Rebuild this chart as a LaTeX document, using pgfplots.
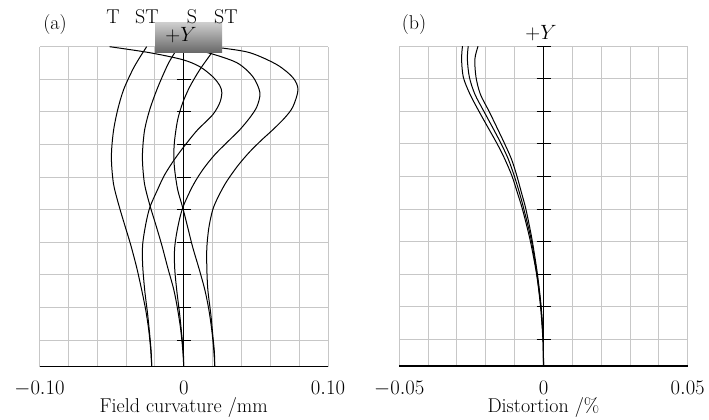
\documentclass[border=0pt]{standalone}
\usepackage{pgfplots}
\pgfplotsset{compat=1.18}

\pgfplotsset{
  lensgrid/.style={
    scale only axis, anchor=south west,
    width=288.5bp, height=320bp,
    ymin=0.184, ymax=10,
    ytick={1,...,10}, yticklabels={},
    grid=both, grid style={black!22, line width=1bp},
    major tick length=0, minor tick length=0,
    axis x line*=bottom, axis y line*=left,
    y axis line style={draw=none},
    x axis line style={line width=1.4bp, -},
    xticklabel style={anchor=base, inner sep=1bp, yshift=-28bp},
    xlabel style={at={(axis description cs:0.5,0)}, anchor=base, inner sep=1bp, yshift=-46bp,
      font=\fontsize{20bp}{23bp}\selectfont},
  },
  crv/.style={black, line width=1bp, smooth, mark=none},
}

\begin{document}
\begin{tikzpicture}[font=\fontsize{19bp}{22bp}\selectfont]
\useasboundingbox (0,0) rectangle (709bp,420bp);

% (a) field curvature
\begin{axis}[lensgrid, at={(39.5bp,53.3bp)},
  xmin=-0.1, xmax=0.1,
  xtick={-0.1,0,0.1}, xticklabels={$-0.10$,$0$,$0.10$},
  minor xtick={-0.08,-0.06,-0.04,-0.02,0.02,0.04,0.06,0.08},
  xlabel={Field curvature /mm}]
% tangential
\addplot[crv] coordinates {(-0.0257,10) (-0.0306,9.663) (-0.0354,9.294) (-0.0417,8.681) (-0.0458,8.067) (-0.0486,7.454) (-0.0500,6.840) (-0.0500,6.380) (-0.0486,5.767) (-0.0451,5.153) (-0.0410,4.540) (-0.0368,3.926) (-0.0326,3.221) (-0.0292,2.546) (-0.0264,1.933) (-0.0243,1.319) (-0.0229,0.706) (-0.0222,0.184)};
\addplot[crv] coordinates {(-0.0042,10) (-0.0063,9.816) (-0.0111,9.448) (-0.0181,8.742) (-0.0236,8.067) (-0.0271,7.454) (-0.0285,6.840) (-0.0285,6.380) (-0.0271,5.767) (-0.0236,5.153) (-0.0194,4.540) (-0.0153,3.926) (-0.0111,3.221) (-0.0069,2.546) (-0.0042,1.933) (-0.0021,1.319) (-0.0007,0.706) (0,0.184)};
\addplot[crv] coordinates {(0.0215,10) (0.0194,9.816) (0.0111,9.294) (0.0042,8.773) (-0.0007,8.282) (-0.0042,7.761) (-0.0063,7.147) (-0.0069,6.687) (-0.0063,6.227) (-0.0042,5.613) (-0.0007,5.061) (0.0028,4.448) (0.0063,3.834) (0.0104,3.221) (0.0146,2.546) (0.0174,1.933) (0.0194,1.319) (0.0208,0.706) (0.0215,0.184)};
% sagittal
\addplot[crv] coordinates {(-0.0514,10) (-0.0236,9.816) (-0.0007,9.601) (0.0111,9.387) (0.0201,9.080) (0.0250,8.804) (0.0264,8.589) (0.0250,8.282) (0.0201,7.914) (0.0097,7.454) (0.0028,7.086) (-0.0056,6.595) (-0.0132,6.074) (-0.0188,5.552) (-0.0236,5.061) (-0.0264,4.540) (-0.0285,3.926) (-0.0285,3.313) (-0.0271,2.546) (-0.0250,1.779) (-0.0236,1.166) (-0.0226,0.644) (-0.0222,0.184)};
\addplot[crv] coordinates {(-0.0132,10) (0.0042,9.908) (0.0167,9.816) (0.0368,9.509) (0.0479,9.080) (0.0528,8.589) (0.0507,8.160) (0.0458,7.822) (0.0389,7.454) (0.0319,7.147) (0.0215,6.687) (0.0132,6.227) (0.0063,5.736) (-0.0007,5.061) (-0.0042,4.448) (-0.0063,3.834) (-0.0063,3.221) (-0.0049,2.546) (-0.0028,1.779) (-0.0014,1.166) (-0.0003,0.644) (0,0.184)};
\addplot[crv] coordinates {(0.0181,10) (0.0250,9.969) (0.0458,9.816) (0.0646,9.448) (0.0757,9.049) (0.0792,8.681) (0.0757,8.160) (0.0701,7.822) (0.0618,7.454) (0.0542,7.147) (0.0458,6.779) (0.0375,6.350) (0.0292,5.828) (0.0236,5.368) (0.0201,5.0) (0.0174,4.448) (0.0160,3.834) (0.0160,3.221) (0.0167,2.546) (0.0188,1.779) (0.0201,1.166) (0.0212,0.644) (0.0215,0.184)};
% field axis with ticks
\draw[line width=1bp] (axis cs:0,0.184) -- (axis cs:0,10);
\pgfplotsinvokeforeach{1,...,9}{\draw[line width=1bp] ([xshift=-7bp]axis cs:0,#1) -- ([xshift=7bp]axis cs:0,#1);}
\end{axis}

% (b) distortion
\begin{axis}[lensgrid, at={(399.3bp,53.8bp)}, width=288.4bp,
  xmin=-0.05, xmax=0.05,
  xtick={-0.05,0,0.05}, xticklabels={$-0.05$,$0$,$0.05$},
  minor xtick={-0.04,-0.03,-0.02,-0.01,0.01,0.02,0.03,0.04},
  xlabel={Distortion /\%}]
\addplot[crv] coordinates {(-0.0281,10) (-0.0284,9.601) (-0.0278,9.049) (-0.0255,8.528) (-0.0224,8.006) (-0.0193,7.515) (-0.0160,6.994) (-0.0134,6.534) (-0.0109,6.012) (-0.0089,5.460) (-0.0073,5.0) (-0.0047,4.080) (-0.0024,3.006) (-0.0010,1.994) (-0.0002,0.982) (0,0.184)};
\addplot[crv] coordinates {(-0.0261,10) (-0.0264,9.601) (-0.0257,9.049) (-0.0238,8.528) (-0.0207,8.006) (-0.0177,7.515) (-0.0146,6.994) (-0.0122,6.534) (-0.0101,6.012) (-0.0082,5.460) (-0.0068,5.0) (-0.0043,4.080) (-0.0023,3.006) (-0.0009,1.994) (-0.0001,0.982) (0,0.184)};
\addplot[crv] coordinates {(-0.0227,10) (-0.0238,9.601) (-0.0234,9.049) (-0.0219,8.528) (-0.0189,8.006) (-0.0162,7.515) (-0.0134,6.994) (-0.0111,6.534) (-0.0092,6.012) (-0.0075,5.460) (-0.0061,5.0) (-0.0040,4.080) (-0.0021,3.006) (-0.0008,1.994) (-0.0001,0.982) (0,0.184)};
\draw[line width=1bp] (axis cs:0,0.184) -- (axis cs:0,10);
\pgfplotsinvokeforeach{1,...,10}{\draw[line width=1bp] ([xshift=-7bp]axis cs:0,#1) -- ([xshift=7bp]axis cs:0,#1);}
\end{axis}

% annotations
\shade[top color=black!20, bottom color=black!60] (155bp,367bp) rectangle (222bp,397bp);
\begin{scope}[font=\fontsize{20bp}{23bp}\selectfont, every node/.style={inner sep=1bp, anchor=base}]
\node at (181bp,378bp) {$+Y$};
\node at (541bp,380bp) {$+Y$};
\node at (55bp,390bp) {(a)};
\node at (414bp,390bp) {(b)};
\node at (113bp,396bp) {T};
\node at (147bp,396bp) {ST};
\node at (192bp,396bp) {S};
\node at (226bp,396bp) {ST};
\end{scope}
\end{tikzpicture}
\end{document}
